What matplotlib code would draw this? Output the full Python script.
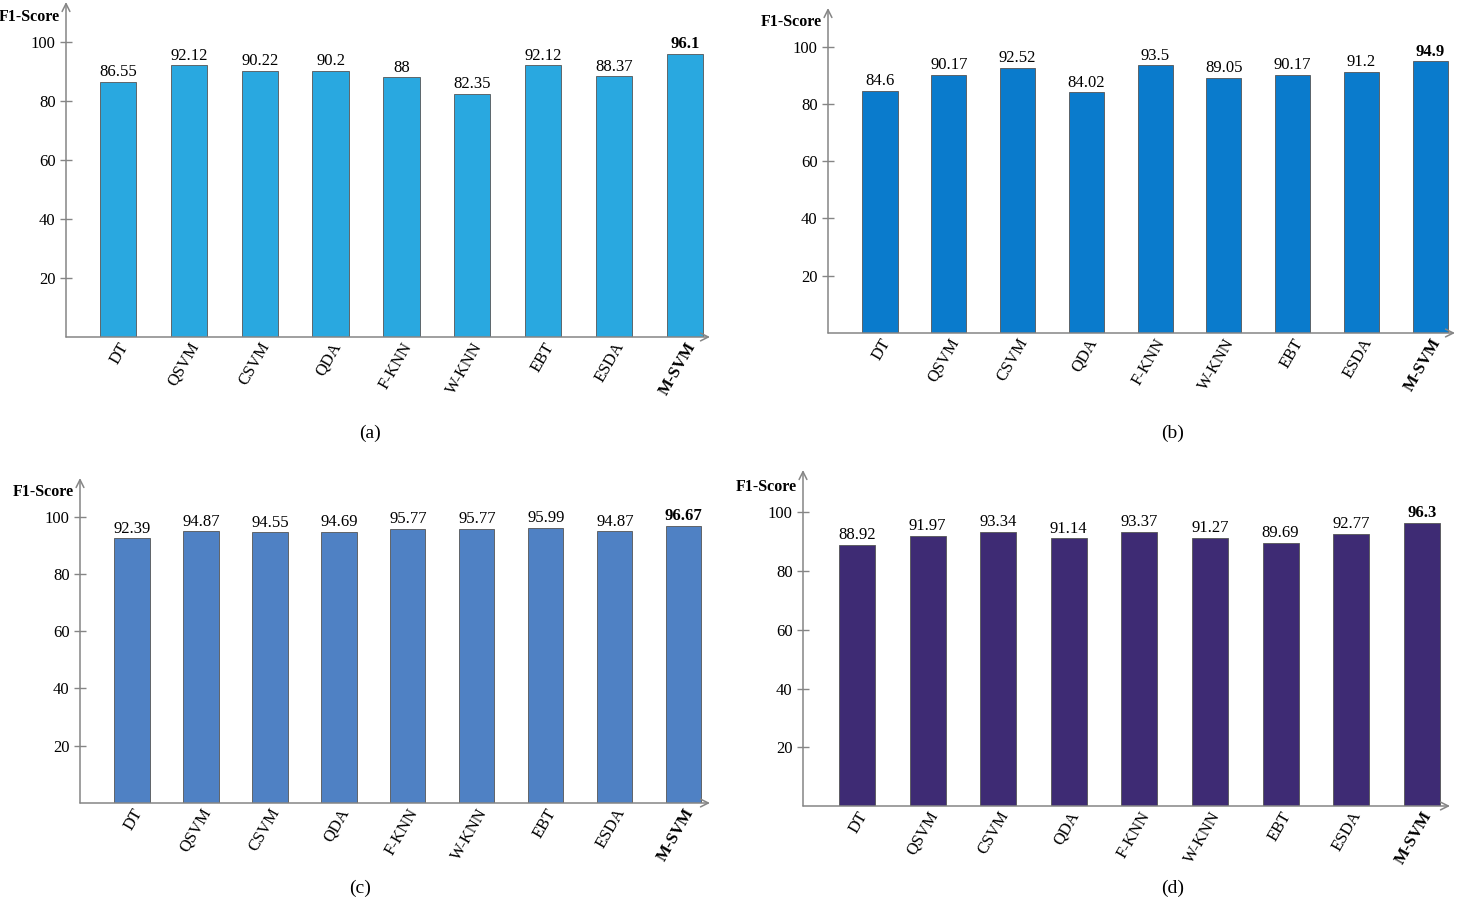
import matplotlib
matplotlib.use("Agg")
import matplotlib.pyplot as plt
from matplotlib.transforms import blended_transform_factory, offset_copy

plt.rcParams['font.family'] = ['Liberation Serif', 'DejaVu Serif']

categories = ["DT", "QSVM", "CSVM", "QDA", "F-KNN", "W-KNN", "EBT", "ESDA", "M-SVM"]
scores_a = [86.55, 92.12, 90.22, 90.2, 88, 82.35, 92.12, 88.37, 96.1]
scores_b = [84.6, 90.17, 92.52, 84.02, 93.5, 89.05, 90.17, 91.2, 94.9]
scores_c = [92.39, 94.87, 94.55, 94.69, 95.77, 95.77, 95.99, 94.87, 96.67]
scores_d = [88.92, 91.97, 93.34, 91.14, 93.37, 91.27, 89.69, 92.77, 96.3]
yticks = [20, 40, 60, 80, 100]
captions = ["(a)", "(b)", "(c)", "(d)"]

W, H = 1458, 900
fig = plt.figure(figsize=(W / 100, H / 100), dpi=100)

panels = [
    (66, 710, 337, 2, (-0.73, 8.35), 113.6, "#29A8E0", (370, 433), scores_a),
    (828, 1455, 333, 8, (-0.756, 8.36), 113.5, "#0A7BCC", (1173, 433), scores_b),
    (80, 710, 803, 478, (-0.754, 8.38), 113.5, "#4F81C4", (360, 888), scores_c),
    (803, 1450, 806, 470, (-0.765, 8.4), 114.4, "#3E2B74", (1173, 888), scores_d),
]

axis_col = "#858585"
for (l, r, b, t, xl, ytop, col, cap, vals), captxt in zip(panels, captions):
    ax = fig.add_axes([l / W, 1 - b / H, (r - l) / W, (b - t) / H])
    x = list(range(len(categories)))
    ax.bar(x, vals, width=0.51, color=col, edgecolor="#555555", linewidth=0.6, zorder=2)
    ax.set_xlim(*xl)
    ax.set_ylim(0, ytop)
    for s in ["top", "right", "left", "bottom"]:
        ax.spines[s].set_visible(False)
    ax.set_yticks(yticks)
    ax.set_yticklabels([str(v) for v in yticks], fontsize=12)
    ax.tick_params(axis='y', direction='inout', length=9, width=1, color=axis_col, pad=3)
    ax.set_xticks(x)
    ax.set_xticklabels(categories, fontsize=12, rotation=60, ha='right', va='top',
                       rotation_mode='anchor')
    ax.tick_params(axis='x', length=0, pad=2)
    for lbl in ax.get_xticklabels():
        if lbl.get_text() == "M-SVM":
            lbl.set_fontweight('bold')
    ax.annotate('', xy=(0, 1), xytext=(0, 0), xycoords='axes fraction',
                arrowprops=dict(arrowstyle='->', color=axis_col, lw=1.1,
                                shrinkA=0, shrinkB=0, mutation_scale=14))
    ax.annotate('', xy=(1, 0), xytext=(0, 0), xycoords='axes fraction',
                arrowprops=dict(arrowstyle='->', color=axis_col, lw=1.1,
                                shrinkA=0, shrinkB=0, mutation_scale=14))
    for i, v in enumerate(vals):
        bold = categories[i] == "M-SVM"
        ax.text(i, v + 0.6, f"{v:g}", ha='center', va='bottom', fontsize=12,
                fontweight='bold' if bold else 'normal')
    tr = offset_copy(blended_transform_factory(ax.transAxes, ax.transData),
                     fig=fig, x=-6, y=0, units='dots')
    ax.text(0, 108.6, "F1-Score", transform=tr, ha='right', va='center',
            fontsize=11.5, fontweight='bold')
    fig.text(cap[0] / W, 1 - cap[1] / H, captxt, ha='center', va='center', fontsize=14)

fig.savefig("out.png", dpi=100)
